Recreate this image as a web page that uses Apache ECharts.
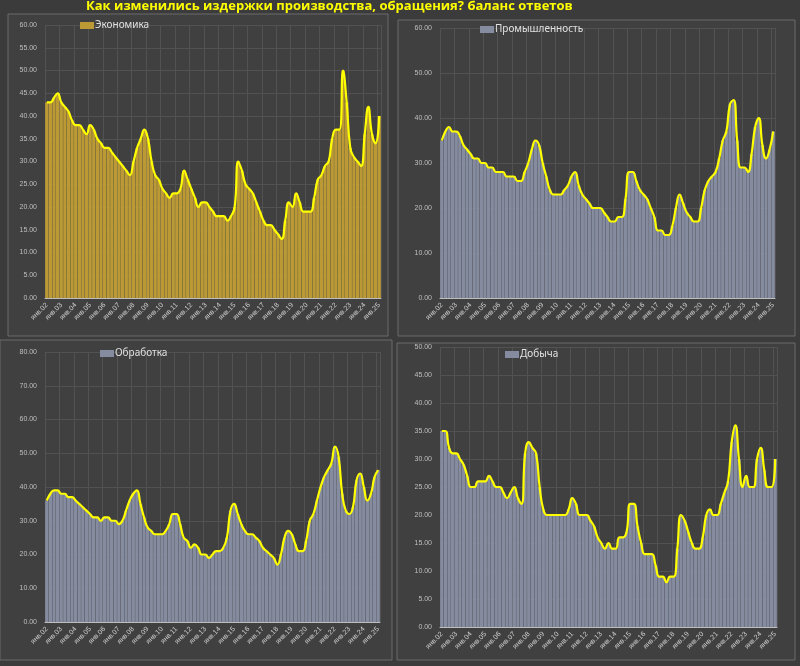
<!DOCTYPE html>
<html><head><meta charset="utf-8">
<script src="https://cdn.jsdelivr.net/npm/echarts@6/dist/echarts.min.js"></script>
<style>html,body{margin:0;background:#3b3b3b}#main{width:800px;height:666px}</style>
</head><body><div id="main"></div>
<script>
// quarterly, янв.02 .. янв.25
var months = ['янв', 'апр', 'июл', 'окт'];
var categories = [];
for (var y = 2; y <= 25; y++) {
  for (var q = 0; q < 4; q++) {
    if (y === 25 && q > 0) break;
    categories.push(months[q] + '.' + (y < 10 ? '0' + y : y));
  }
}

var economy = [
  43,43,44,45, 43,42,41,39, 38,38,37,36, 38,37,35,34, 33,33,32,31, 30,29,28,27,
  30,33,35,37, 35,30,27,26, 24,23,22,23, 23,24,28,26, 24,22,20,21, 21,20,19,18,
  18,18,17,18, 20,30,28,25, 24,23,21,19, 17,16,16,15, 14,13,17,21, 20,23,21,19,
  19,19,22,26, 27,29,30,35, 37,37,50,43, 33,31,30,29, 36,42,36,34, 40
];
var industry = [
  35,37,38,37, 37,36,34,33, 32,31,31,30, 30,29,29,28, 28,28,27,27, 27,26,26,28,
  30,33,35,34, 30,27,24,23, 23,23,24,25, 27,28,25,23, 22,21,20,20, 20,19,18,17,
  17,18,18,22, 28,28,26,24, 23,22,20,18, 15,15,14,14, 16,20,23,21, 19,18,17,17,
  20,24,26,27, 28,31,35,37, 43,44,35,29, 29,28,32,38, 40,34,31,33, 37
];
var manufacturing = [
  36,38,39,39, 38,38,37,37, 36,35,34,33, 32,31,31,30, 31,31,30,30, 29,30,33,36,
  38,39,35,31, 28,27,26,26, 26,27,29,32, 32,29,25,24, 22,23,22,20, 20,19,20,21,
  21,22,25,33, 35,32,29,27, 26,26,25,24, 22,21,20,19, 17,20,25,27, 26,23,21,21,
  24,30,32,36, 40,43,45,47, 52,49,38,33, 32,34,42,44, 40,36,38,43, 45
];
var mining = [
  35,35,32,31, 31,30,29,27, 25,25,26,26, 26,27,26,25, 25,24,23,24, 25,23,22,31,
  33,32,31,25, 21,20,20,20, 20,20,20,21, 23,22,20,20, 20,19,18,16, 15,14,15,14,
  14,16,16,17, 22,22,18,15, 13,13,13,11, 9,9,8,9, 9,14,20,19, 17,15,14,14,
  16,20,21,20, 20,22,24,26, 33,36,30,25, 27,25,25,30, 32,28,25,25, 30
];

var panels = [
  {name: 'Экономика', data: economy, color: '#bb9a36', max: 60, interval: 5,
   grid: {left: 45, right: 419, top: 25, bottom: 368}, legend: [80, 22]},
  {name: 'Промышленность', data: industry, color: '#868ca0', max: 60, interval: 10,
   grid: {left: 440, right: 25, top: 28, bottom: 368}, legend: [480, 26]},
  {name: 'Обработка', data: manufacturing, color: '#868ca0', max: 80, interval: 10,
   grid: {left: 45, right: 420, top: 352, bottom: 44}, legend: [100, 350]},
  {name: 'Добыча', data: mining, color: '#868ca0', max: 50, interval: 5,
   grid: {left: 440, right: 23, top: 347, bottom: 39}, legend: [505, 351]}
];

var grids = [], xAxes = [], yAxes = [], series = [], graphics = [];
var frames = [[8, 14, 380, 322], [398, 20, 397, 316], [0, 340, 392, 320], [397, 343, 398, 317]];
frames.forEach(function (f) {
  graphics.push({type: 'rect', shape: {x: f[0], y: f[1], width: f[2], height: f[3]}, z: -10,
    style: {fill: '#404040', stroke: '#6a6a6a', lineWidth: 1}});
});
graphics.push({type: 'text', left: 86, top: 0, z: 10,
  style: {text: 'Как изменились издержки производства, обращения? баланс ответов',
    fill: '#ffff00', font: 'bold 13px "Open Sans", sans-serif'}});

panels.forEach(function (p, i) {
  grids.push(p.grid);
  xAxes.push({type: 'category', gridIndex: i, data: categories, boundaryGap: true,
    axisTick: {show: false}, axisLine: {lineStyle: {color: '#bdbdbd'}},
    splitLine: {show: true, interval: 3, lineStyle: {color: '#525252'}},
    axisLabel: {interval: 3, rotate: 45, fontSize: 7, color: '#d0d0d0', margin: 6}});
  yAxes.push({type: 'value', gridIndex: i, min: 0, max: p.max, interval: p.interval,
    axisLabel: {fontSize: 7, color: '#bfbfbf', formatter: function (v) { return v.toFixed(2); }},
    splitLine: {lineStyle: {color: '#525252'}}});
  series.push({type: 'bar', name: p.name, xAxisIndex: i, yAxisIndex: i, data: p.data,
    barCategoryGap: '8%', itemStyle: {color: p.color}, silent: true});
  series.push({type: 'line', xAxisIndex: i, yAxisIndex: i, data: p.data, smooth: true,
    symbol: 'none', lineStyle: {color: '#ffff00', width: 2.2}, silent: true});
  graphics.push({type: 'rect', shape: {x: p.legend[0], y: p.legend[1], width: 14, height: 7}, z: 10,
    style: {fill: p.color}});
  graphics.push({type: 'text', x: p.legend[0] + 15, y: p.legend[1] - 2, z: 10,
    style: {text: p.name, fill: '#e0e0e0', font: '10px "Noto Sans", sans-serif'}});
});

var myChart = echarts.init(document.getElementById('main'));
myChart.setOption({
  animation: false,
  backgroundColor: '#3b3b3b',
  grid: grids, xAxis: xAxes, yAxis: yAxes, series: series, graphic: graphics
});
</script>
</body></html>
